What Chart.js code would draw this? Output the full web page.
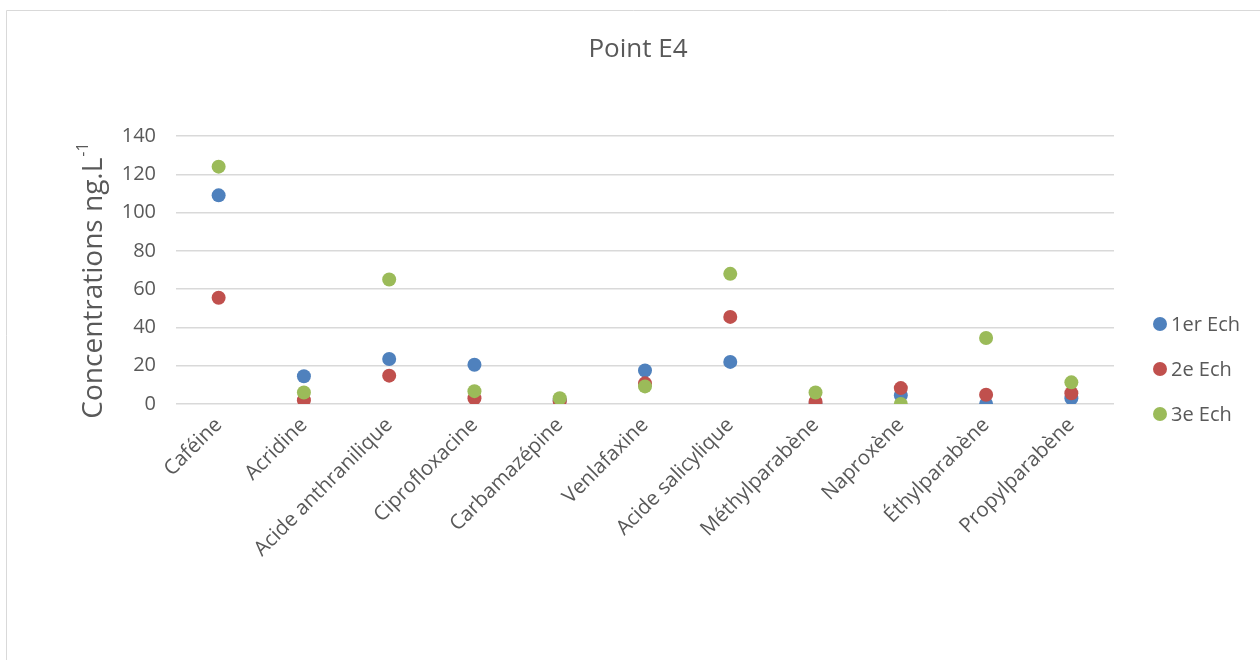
<!DOCTYPE html>
<html>
<head>
<meta charset="utf-8">
<script src="https://cdn.jsdelivr.net/npm/chart.js@4/dist/chart.umd.min.js"></script>
<style>
  html, body { margin: 0; padding: 0; background: #ffffff; }
  #wrap { width: 1260px; height: 660px; position: relative; }
</style>
</head>
<body>
<div id="wrap"><canvas id="c" width="1260" height="660"></canvas></div>
<script>
// Compounds measured at sampling point E4
const categories = ['Caféine', 'Acridine', 'Acide anthranilique', 'Ciprofloxacine', 'Carbamazépine',
  'Venlafaxine', 'Acide salicylique', 'Méthylparabène', 'Naproxène', 'Éthylparabène', 'Propylparabène'];

// Concentrations (ng/L) for each sampling campaign
const ech1 = [109, 14.5, 23.5, 20.5, 2, 17.5, 22, 0, 4.5, 0, 3];
const ech2 = [55.5, 2, 14.8, 3, 1.5, 10.8, 45.5, 1.2, 8.3, 4.8, 5.6];
const ech3 = [124, 6, 65, 6.7, 3, 9.2, 68, 6, 0, 34.5, 11.3];

const seriesNames = ['1er Ech', '2e Ech', '3e Ech'];
const yTicks = [0, 20, 40, 60, 80, 100, 120, 140];

const FONT = '"Open Sans", Lato, sans-serif';
const TEXT = '#595959';
const colors = ['#4F81BD', '#C0504D', '#9BBB59'];

// Frame, title, rotated axis title with superscript and the right-hand legend
const decor = {
  id: 'decor',
  afterDraw(chart) {
    const ctx = chart.ctx;
    ctx.save();
    ctx.strokeStyle = '#d9d9d9';
    ctx.lineWidth = 1;
    ctx.beginPath();
    ctx.moveTo(6.5, 700);
    ctx.lineTo(6.5, 10.5);
    ctx.lineTo(1300, 10.5);
    ctx.stroke();

    ctx.fillStyle = TEXT;
    ctx.font = '26px ' + FONT;
    ctx.textAlign = 'center';
    ctx.textBaseline = 'middle';
    ctx.fillText('Point E4', 638, 50);

    // Y axis title
    ctx.save();
    ctx.translate(92, 281);
    ctx.rotate(-Math.PI / 2);
    const main = 'Concentrations ng.L';
    ctx.font = '28px ' + FONT;
    const w1 = ctx.measureText(main).width;
    ctx.font = '16px ' + FONT;
    const w2 = ctx.measureText('-1').width;
    const start = -(w1 + w2) / 2;
    ctx.textAlign = 'left';
    ctx.textBaseline = 'alphabetic';
    ctx.font = '28px ' + FONT;
    ctx.fillText(main, start, 10);
    ctx.font = '16px ' + FONT;
    ctx.fillText('-1', start + w1 + 1, -4);
    ctx.restore();

    // Legend
    ctx.font = '20px ' + FONT;
    ctx.textAlign = 'left';
    ctx.textBaseline = 'middle';
    seriesNames.forEach((name, i) => {
      const y = 324 + i * 45;
      ctx.beginPath();
      ctx.fillStyle = colors[i];
      ctx.arc(1160, y, 7, 0, Math.PI * 2);
      ctx.fill();
      ctx.fillStyle = TEXT;
      ctx.fillText(name, 1171, y + 1);
    });
    ctx.restore();
  }
};

const mk = (label, data, i, order) => ({
  label, data,
  showLine: false,
  pointRadius: 7,
  pointHoverRadius: 7,
  pointBorderWidth: 0,
  pointBackgroundColor: colors[i],
  pointBorderColor: colors[i],
  backgroundColor: colors[i],
  borderColor: colors[i],
  order
});

new Chart(document.getElementById('c'), {
  type: 'line',
  data: {
    labels: categories,
    datasets: [
      mk(seriesNames[0], ech1, 0, 3),
      mk(seriesNames[1], ech2, 1, 2),
      mk(seriesNames[2], ech3, 2, 1)
    ]
  },
  options: {
    responsive: false,
    animation: false,
    events: [],
    layout: { padding: { top: 136, left: 0, right: 146, bottom: 0 } },
    plugins: { legend: { display: false }, title: { display: false }, tooltip: { enabled: false } },
    scales: {
      x: {
        type: 'category',
        offset: true,
        grid: { display: false, drawTicks: false },
        border: { display: false },
        ticks: {
          color: TEXT, font: { family: FONT, size: 20.5 },
          minRotation: 45, maxRotation: 45, padding: 9, autoSkip: false
        },
        afterFit(s) { s.height = 256; }
      },
      y: {
        min: 0, max: 140,
        grid: { color: '#d9d9d9', lineWidth: 1.5, drawTicks: false },
        border: { display: false },
        afterBuildTicks(s) { s.ticks = yTicks.map(v => ({ value: v })); },
        ticks: { color: TEXT, font: { family: FONT, size: 20 }, padding: 20 },
        afterFit(s) { s.width = 176; }
      }
    }
  },
  plugins: [decor]
});
</script>
</body>
</html>
